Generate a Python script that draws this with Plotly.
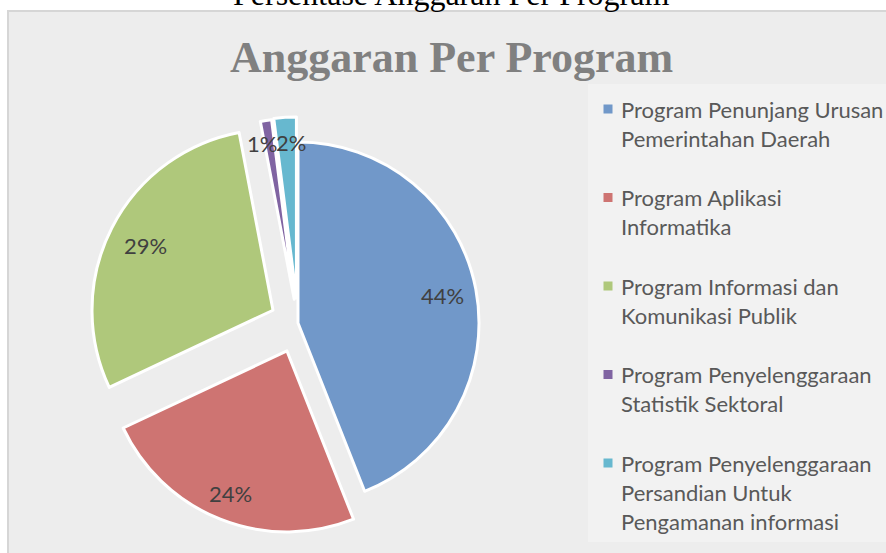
import math
import plotly.graph_objects as go

# ---------------- data ----------------
categories = [
    "Program Penunjang Urusan Pemerintahan Daerah",
    "Program Aplikasi Informatika",
    "Program Informasi dan Komunikasi Publik",
    "Program Penyelenggaraan Statistik Sektoral",
    "Program Penyelenggaraan Persandian Untuk Pengamanan informasi",
]
legend_lines = [
    ["Program Penunjang Urusan", "Pemerintahan Daerah"],
    ["Program Aplikasi", "Informatika"],
    ["Program Informasi dan", "Komunikasi Publik"],
    ["Program Penyelenggaraan", "Statistik Sektoral"],
    ["Program Penyelenggaraan", "Persandian Untuk", "Pengamanan informasi"],
]
values = [44, 24, 29, 1, 2]

# ---------------- style ----------------
colors = ["#7198C9", "#CE7472", "#AFC87B", "#8064A2", "#67B8CF"]
pulls = [0.0, 0.166, 0.155, 0.133, 0.138]
label_radius = [0.81, 0.85, 0.79, 0.87, 0.86]
label_shift = [0, 0, 0, -8, 4]
title_text = "Anggaran Per Program"
top_text = "Persentase Anggaran Per Program"

W, H = 886, 553
CX, CY, R = 298, 323, 181          # pie centre / radius in px
maxpull = max(pulls)
half = R * (1 + maxpull)
dom_x = [(CX - half) / W, (CX + half) / W]
dom_y = [1 - (CY + half) / H, 1 - (CY - half) / H]

fig = go.Figure()
fig.add_trace(go.Pie(
    labels=categories,
    values=values,
    sort=False,
    direction="clockwise",
    rotation=0,
    pull=pulls,
    marker=dict(colors=colors, line=dict(color="white", width=3)),
    textinfo="none",
    hoverinfo="label+percent",
    showlegend=False,
    domain=dict(x=dom_x, y=dom_y),
))


def px(x):
    return x / W


def py(y):
    return 1 - y / H


annotations = []
shapes = []

# background frame
shapes.append(dict(type="rect", xref="paper", yref="paper",
                   x0=px(8), x1=px(892), y0=py(11), y1=py(560),
                   fillcolor="#EDEDED", line=dict(color="#D6D6D6", width=2),
                   layer="below"))
# lighter legend box
shapes.append(dict(type="rect", xref="paper", yref="paper",
                   x0=px(588), x1=px(892), y0=py(84), y1=py(542),
                   fillcolor="rgba(255,255,255,0.28)", line=dict(width=0),
                   layer="below"))

# percentage labels placed along each slice's mid-angle
total = sum(values)
cum = 0
for i, v in enumerate(values):
    mid = (cum + v / 2) / total * 2 * math.pi
    cum += v
    dx, dy = math.sin(mid), -math.cos(mid)
    k = label_radius[i]
    ax = CX + pulls[i] * R * dx + k * R * dx
    ay = CY + pulls[i] * R * dy + k * R * dy
    annotations.append(dict(
        text=f"{round(v / total * 100)}%", x=px(ax), y=py(ay),
        xref="paper", yref="paper", showarrow=False, xshift=label_shift[i],
        font=dict(family="Lato", size=22, color="#404040"),
        xanchor="center", yanchor="middle"))

# titles
annotations.append(dict(text=f"<b>{title_text}</b>", x=px(452), y=py(58),
                        xref="paper", yref="paper", showarrow=False,
                        font=dict(family="Liberation Serif", size=44, color="#808080"),
                        xanchor="center", yanchor="middle"))
annotations.append(dict(text=top_text, x=px(451), y=py(-5.8),
                        xref="paper", yref="paper", showarrow=False,
                        font=dict(family="Liberation Serif", size=32, color="#000000"),
                        xanchor="center", yanchor="middle"))

# legend (manual, so line spacing matches)
line_gap = 29.3
item_gap = 88.5
y0 = 109
for i, lines in enumerate(legend_lines):
    yi = y0 + i * item_gap
    shapes.append(dict(type="rect", xref="paper", yref="paper",
                       x0=px(603.5), x1=px(612.5), y0=py(yi - 4.5), y1=py(yi + 4.5),
                       fillcolor=colors[i], line=dict(width=0)))
    for j, ln in enumerate(lines):
        annotations.append(dict(text=ln, x=px(619), y=py(yi + j * line_gap),
                                xref="paper", yref="paper", showarrow=False,
                                font=dict(family="Lato", size=22, color="#595959"),
                                xanchor="left", yanchor="middle"))

fig.update_layout(
    width=W, height=H,
    margin=dict(l=0, r=0, t=0, b=0),
    paper_bgcolor="white",
    plot_bgcolor="white",
    annotations=annotations,
    shapes=shapes,
    showlegend=False,
)

fig.write_html(
    "out.html",
    config={"displayModeBar": False},
    post_script="document.body.style.margin='0';document.body.style.overflow='hidden';",
)
